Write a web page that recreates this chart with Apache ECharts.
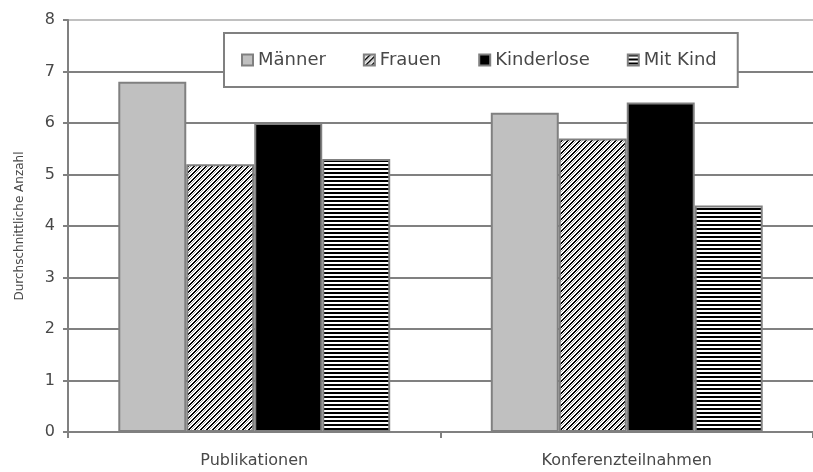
<!DOCTYPE html>
<html>
<head>
<meta charset="utf-8">
<script src="https://cdn.jsdelivr.net/npm/echarts@6/dist/echarts.min.js"></script>
<style>
  html, body { margin: 0; padding: 0; background: #fff; }
  #chart { width: 813px; height: 472px; }
</style>
</head>
<body>
<div id="chart"></div>
<script>
const categories = ['Publikationen', 'Konferenzteilnahmen'];
const maenner = [6.8, 6.2];
const frauen = [5.2, 5.7];
const kinderlose = [6.0, 6.4];
const mitKind = [5.3, 4.4];
const yTicks = [0, 1, 2, 3, 4, 5, 6, 7, 8];

// Diagonal hatch tile (lines rising to the right)
function diagonalTile() {
  const c = document.createElement('canvas');
  c.width = 6; c.height = 6;
  const g = c.getContext('2d');
  g.fillStyle = '#ffffff';
  g.fillRect(0, 0, 6, 6);
  g.fillStyle = '#000000';
  for (let i = 0; i < 6; i++) {
    const x = (5 - i + 6) % 6;
    g.fillRect(x, i, 2, 1);
    if (x + 2 > 6) g.fillRect(0, i, x + 2 - 6, 1);
  }
  g.fillStyle = '#a0a0a0';
  for (let i = 0; i < 6; i++) {
    const x = (5 - i + 3 + 6) % 6;
    g.fillRect(x, i, 1, 1);
  }
  return c;
}

// Horizontal stripe tile
function stripeTile() {
  const c = document.createElement('canvas');
  c.width = 4; c.height = 4;
  const g = c.getContext('2d');
  g.fillStyle = '#ffffff';
  g.fillRect(0, 0, 4, 4);
  g.fillStyle = '#000000';
  g.fillRect(0, 0, 4, 2);
  return c;
}

const diagFill = { image: diagonalTile(), repeat: 'repeat' };
const stripeFill = { image: stripeTile(), repeat: 'repeat' };

const border = { borderColor: '#808080', borderWidth: 2 };
const font = 'DejaVu Sans';
const textColor = '#484848';

// Gridline colours, bottom to top; the top edge of the plot is lighter
const gridColors = yTicks.map((v, i) => (i === yTicks.length - 1 ? '#c0c0c0' : '#808080'));

const chart = echarts.init(document.getElementById('chart'));
chart.setOption({
  animation: false,
  backgroundColor: '#ffffff',
  textStyle: { fontFamily: font },
  grid: { left: 68, right: 0, top: 20, bottom: 40 },
  legend: {
    left: 224, top: 33,
    padding: [18, 21, 18, 17],
    borderColor: '#808080', borderWidth: 2,
    backgroundColor: '#ffffff',
    itemWidth: 11, itemHeight: 11, itemGap: 37,
    icon: 'rect',
    selectedMode: false,
    textStyle: { fontFamily: font, fontSize: 18, color: textColor },
    data: ['Männer', 'Frauen', 'Kinderlose', 'Mit Kind']
  },
  xAxis: {
    type: 'category',
    data: categories,
    axisLine: { lineStyle: { color: '#808080', width: 2 } },
    axisTick: { show: true, length: 6, lineStyle: { color: '#808080', width: 2 } },
    axisLabel: { fontFamily: font, fontSize: 16, color: textColor, margin: 21 }
  },
  yAxis: {
    type: 'value',
    min: yTicks[0], max: yTicks[yTicks.length - 1], interval: 1,
    name: 'Durchschnittliche Anzahl',
    nameLocation: 'middle', nameRotate: 90, nameGap: 42,
    nameTextStyle: { fontFamily: font, fontSize: 12, color: textColor },
    axisLine: { show: true, lineStyle: { color: '#808080', width: 2 } },
    axisTick: { show: true, length: 5, lineStyle: { color: '#808080', width: 2 } },
    axisLabel: { fontFamily: font, fontSize: 16, color: textColor, margin: 13 },
    splitLine: { show: true, lineStyle: { color: gridColors, width: 2 } }
  },
  series: [
    { name: 'Männer', type: 'bar', data: maenner, barGap: '0%', barCategoryGap: '27%',
      itemStyle: Object.assign({ color: '#c0c0c0' }, border) },
    { name: 'Frauen', type: 'bar', data: frauen,
      itemStyle: Object.assign({ color: diagFill }, border) },
    { name: 'Kinderlose', type: 'bar', data: kinderlose,
      itemStyle: Object.assign({ color: '#000000' }, border) },
    { name: 'Mit Kind', type: 'bar', data: mitKind,
      itemStyle: Object.assign({ color: stripeFill }, border) }
  ]
});
</script>
</body>
</html>
